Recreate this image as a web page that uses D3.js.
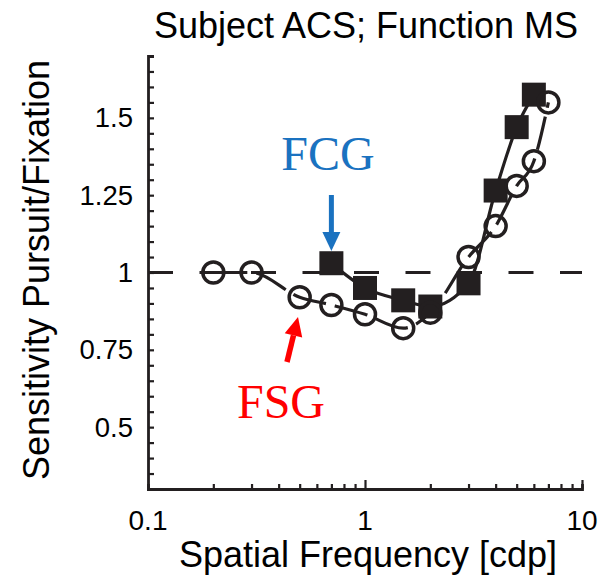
<!DOCTYPE html>
<html><head><meta charset="utf-8">
<script src="https://cdn.jsdelivr.net/npm/d3@7"></script>
<style>body{margin:0;background:#fff}svg{display:block}</style>
</head><body>
<svg id="c" width="600" height="585"></svg>
<script>
// Data
const fsgFreq = [0.2, 0.3, 0.5, 0.7, 1.0, 1.5, 2.0, 3.0, 4.0, 5.0, 6.0, 7.0];
const fsgRatio = [1.0, 1.0, 0.92, 0.895, 0.865, 0.82, 0.87, 1.05, 1.15, 1.28, 1.36, 1.55];
const fcgFreq = [0.7, 1.0, 1.5, 2.0, 3.0, 4.0, 5.0, 6.0];
const fcgRatio = [1.03, 0.95, 0.91, 0.89, 0.965, 1.265, 1.47, 1.575];
const xTickLabels = ["0.1", "1", "10"];
const xTickValues = [0.1, 1, 10];
const yTickValues = [0.5, 0.75, 1, 1.25, 1.5];
const yTickLabels = ["0.5", "0.75", "1", "1.25", "1.5"];

const svg = d3.select("#c");
const ink = "#231f20";
const x = d3.scaleLog().domain([0.1, 10]).range([148, 582]);
const y = d3.scaleLinear().domain([0.3, 1.7]).range([489, 56]);
const font = "Liberation Sans, Arial, sans-serif";

// minor ticks
const xMinor = [];
[0.1, 1].forEach(d => { for (let k = 2; k <= 9; k++) xMinor.push(d * k); });
const yMinor = d3.range(0.35, 1.7001, 0.05).map(v => +v.toFixed(2));

// Axes
const xAxis = d3.axisBottom(x).tickValues(xMinor).tickSize(-5).tickFormat("");
svg.append("g").attr("transform", `translate(0,${y(0.3)})`).call(xAxis);
const xAxisMajor = d3.axisBottom(x).tickValues([1, 10]).tickSize(-9).tickFormat("");
svg.append("g").attr("transform", `translate(0,${y(0.3)})`).call(xAxisMajor).select(".domain").remove();
const yAxis = d3.axisLeft(y).tickValues(yMinor).tickSize(-6).tickFormat("");
svg.append("g").attr("transform", `translate(${x(0.1)},0)`).call(yAxis);
svg.selectAll(".domain").attr("stroke", ink).attr("stroke-width", 2.8);
svg.selectAll(".tick line").attr("stroke", ink).attr("stroke-width", 2.2);

// tick labels
svg.append("g").selectAll("text").data(xTickValues).join("text")
  .attr("x", d => x(d)).attr("y", 530).attr("text-anchor", "middle")
  .attr("font-family", font).attr("font-size", 28).attr("fill", "#000")
  .text((d, i) => xTickLabels[i]);
svg.append("g").selectAll("text").data(yTickValues).join("text")
  .attr("x", 133).attr("y", d => y(d)).attr("dy", "0.35em").attr("text-anchor", "end")
  .attr("font-family", font).attr("font-size", 27.5).attr("fill", "#000")
  .text((d, i) => yTickLabels[i]);

// reference line at 1
svg.append("line").attr("x1", x(0.1)).attr("x2", x(10)).attr("y1", y(1)).attr("y2", y(1))
  .attr("stroke", ink).attr("stroke-width", 3.2).attr("stroke-dasharray", "25,26.5");

// fit lines
const lineGen = d3.line().x(d => x(d[0])).y(d => y(d[1])).curve(d3.curveMonotoneX);
svg.append("path").datum(fcgFreq.map((f, i) => [f, fcgRatio[i]]))
  .attr("d", lineGen).attr("fill", "none").attr("stroke", ink).attr("stroke-width", 3.2);
svg.append("path").datum(fsgFreq.map((f, i) => [f, fsgRatio[i]]))
  .attr("d", lineGen).attr("fill", "none").attr("stroke", ink).attr("stroke-width", 3.2)
  .attr("stroke-dasharray", "34,9");

// markers
svg.append("g").selectAll("rect").data(fcgFreq).join("rect")
  .attr("x", d => x(d) - 12).attr("y", (d, i) => y(fcgRatio[i]) - 12)
  .attr("width", 24).attr("height", 24).attr("fill", ink);
svg.append("g").selectAll("circle").data(fsgFreq).join("circle")
  .attr("cx", d => x(d)).attr("cy", (d, i) => y(fsgRatio[i])).attr("r", 10.5)
  .attr("fill", "none").attr("stroke", ink).attr("stroke-width", 3.5);

// annotations
const blue = "#1a72c0", red = "#ff0000";
svg.append("text").attr("x", 328).attr("y", 170).attr("text-anchor", "middle")
  .attr("font-family", "Liberation Serif, Times New Roman, serif").attr("font-size", 48)
  .attr("fill", blue).text("FCG");
svg.append("line").attr("x1", x(0.7)).attr("x2", x(0.7)).attr("y1", 195).attr("y2", 234)
  .attr("stroke", blue).attr("stroke-width", 5);
svg.append("path").attr("d", `M${x(0.7) - 9},232 L${x(0.7) + 9},232 L${x(0.7)},251 Z`).attr("fill", blue);

svg.append("text").attr("x", 281).attr("y", 418).attr("text-anchor", "middle")
  .attr("font-family", "Liberation Serif, Times New Roman, serif").attr("font-size", 48)
  .attr("fill", red).text("FSG");
// red arrow pointing up-right
const tail = [287, 362], tip = [298, 317];
const ang = Math.atan2(tip[1] - tail[1], tip[0] - tail[0]);
const hl = 19, hw = 9;
const bx = tip[0] - hl * Math.cos(ang), by = tip[1] - hl * Math.sin(ang);
svg.append("line").attr("x1", tail[0]).attr("y1", tail[1]).attr("x2", bx).attr("y2", by)
  .attr("stroke", red).attr("stroke-width", 5.5);
svg.append("path").attr("d",
  `M${tip[0]},${tip[1]} L${bx + hw * Math.sin(ang)},${by - hw * Math.cos(ang)} L${bx - hw * Math.sin(ang)},${by + hw * Math.cos(ang)} Z`)
  .attr("fill", red);

// titles
svg.append("text").attr("x", 366).attr("y", 38).attr("text-anchor", "middle")
  .attr("font-family", font).attr("font-size", 36).attr("fill", "#000")
  .text("Subject ACS; Function MS");
svg.append("text").attr("x", 368).attr("y", 567).attr("text-anchor", "middle")
  .attr("font-family", font).attr("font-size", 36).attr("fill", "#000")
  .text("Spatial Frequency [cdp]");
svg.append("text").attr("transform", "translate(49,270) rotate(-90)").attr("text-anchor", "middle")
  .attr("font-family", font).attr("font-size", 36).attr("fill", "#000")
  .text("Sensitivity Pursuit/Fixation");
</script>
</body></html>
